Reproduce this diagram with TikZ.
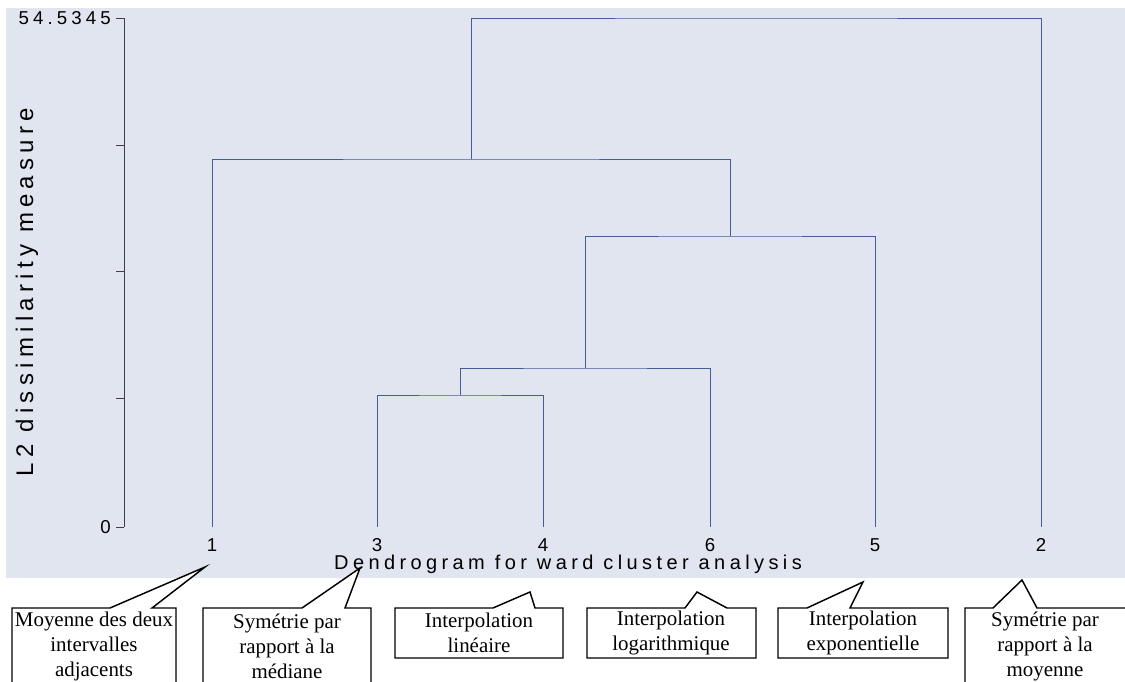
\documentclass[tikz,border=0pt]{standalone}
\usepackage{fontspec}
\setmainfont{Liberation Serif}
\setsansfont{Liberation Sans}
\newfontfamily\spaced{Liberation Sans}[LetterSpace=22]
\usetikzlibrary{calc,positioning}
\definecolor{plotbg}{RGB}{225,229,240}
\definecolor{linkblue}{RGB}{70,92,150}

\begin{document}
\begin{tikzpicture}[x=0.75pt,y=-0.75pt]

    % Styles
    \tikzset{
        link/.style={linkblue, line width=0.75pt},
        tick/.style={black!75, line width=0.7pt},
        leaf/.style={font=\spaced\fontsize{14}{16}\selectfont, inner sep=0pt},
        callout/.style={draw=black, line width=1.1pt, fill=white, line join=miter},
        note/.style={align=center, inner sep=0pt, font=\fontsize{15.7}{18.75}\selectfont}
    }

    \useasboundingbox (0,0) rectangle (1125,682);
    \fill[plotbg] (6,8) rectangle (1125,578);

    % Axis
    \coordinate (top) at (124,18);   % 54.5345
    \coordinate (bot) at (124,527);  % 0
    \draw[tick] (top) -- (bot);
    \foreach \y in {18,145,271,398,527}
        \draw[tick] (116,\y) -- (124,\y);
    \node[leaf, anchor=east] (ymax) at (111,18) {54.5345};
    \node[leaf, anchor=east] (ymin) at (111,527) {0};
    \node[leaf, rotate=90, font=\spaced\fontsize{18}{20}\selectfont] (ylab) at (27,292) {L2 dissimilarity measure};

    % Leaves
    \coordinate (l1) at (212,527);
    \coordinate (l3) at (377,527);
    \coordinate (l4) at (543,527);
    \coordinate (l6) at (710,527);
    \coordinate (l5) at (875,527);
    \coordinate (l2) at (1041,527);

    % Merges
    \coordinate (m34) at (460,395);
    \coordinate (m346) at (585,368);
    \coordinate (m3465) at (730,236);
    \coordinate (m1) at (471,159);
    \coordinate (mall) at (756,18);

    % Tree
    \draw[link] (l3) |- (m34) -| (l4);
    \draw[link] (m34) |- (m346) -| (l6);
    \draw[link] (m346) |- (m3465) -| (l5);
    \draw[link] (l1) |- (m1) -| (m3465);
    \draw[link] (m1) |- (mall) -| (l2);

    % Leaf labels
    \foreach \i in {1,3,4,6,5,2}
        \node[leaf] (t\i) at ($(l\i)+(0,18)$) {\i};
    \node[leaf, font=\spaced\fontsize{15}{17}\selectfont] (title) at (568,564) {Dendrogram for ward cluster analysis};

    % Callouts
    \draw[callout] (12,690) -- (12,608) -- (110,608) -- (205,567) -- (152,608) -- (176,608) -- (176,690);
    \draw[callout] (203,690) -- (203,608) -- (302,608) -- (360,568) -- (345,608) -- (371,608) -- (371,690);
    \draw[callout] (395,658) -- (395,608) -- (493,608) -- (530,592) -- (535,608) -- (563,608) -- (563,658) -- cycle;
    \draw[callout] (587,658) -- (587,608) -- (685,608) -- (697,592) -- (727,608) -- (756,608) -- (756,658) -- cycle;
    \draw[callout] (778,658) -- (778,608) -- (807,608) -- (863,582) -- (850,608) -- (948,608) -- (948,658) -- cycle;
    \draw[callout] (965,690) -- (965,608) -- (993,608) -- (1022,580) -- (1037,608) -- (1130,608);

    \node[note] (n1) at (94,646) {Moyenne des deux\\intervalles\\adjacents};
    \node[note] (n2) at (287,646) {Symétrie par\\rapport à la\\médiane};
    \node[note] (n3) at (479,633) {Interpolation\\linéaire};
    \node[note] (n4) at (671,633) {Interpolation\\logarithmique};
    \node[note] (n5) at (863,633) {Interpolation\\exponentielle};
    \node[note] (n6) at (1045,646) {Symétrie par\\rapport à la\\moyenne};

\end{tikzpicture}
\end{document}
